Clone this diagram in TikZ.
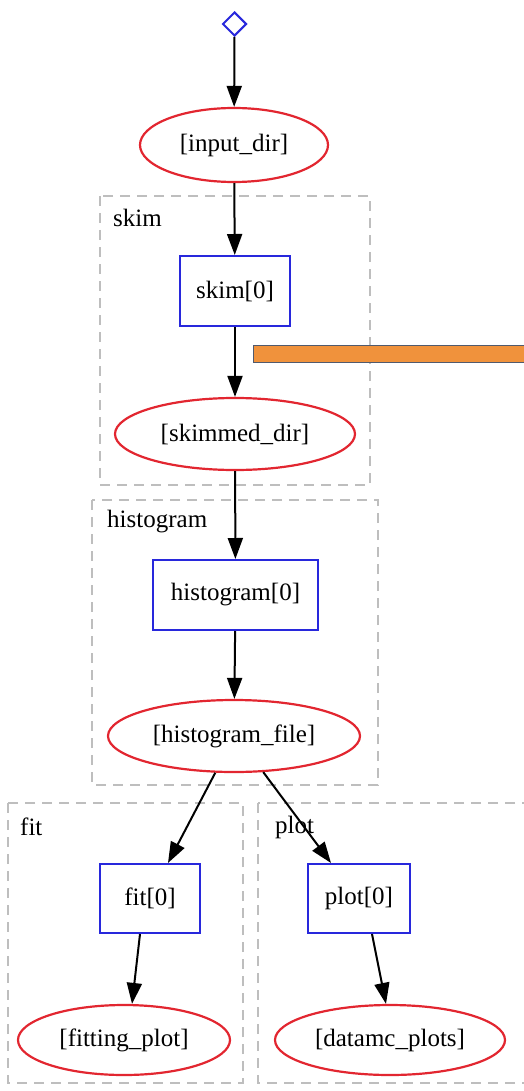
\documentclass[tikz,border=0pt]{standalone}
\usepackage{fontspec}
\setmainfont{Liberation Serif}
\usepackage{xcolor}
\definecolor{ColR}{RGB}{226,38,48}
\definecolor{ColB}{RGB}{40,40,220}
\definecolor{ColG}{RGB}{190,190,190}
\definecolor{ColO}{RGB}{240,146,60}
\definecolor{ColE}{RGB}{80,90,110}
\usetikzlibrary{shapes.geometric}
\usetikzlibrary{arrows.meta}
\tikzstyle{Data}=[ellipse,draw=ColR,line width=2.2pt,inner sep=0pt,
font=\fontsize{25}{28}\selectfont]
\tikzstyle{Task}=[rectangle,draw=ColB,line width=2pt,inner sep=0pt,
font=\fontsize{25}{28}\selectfont]
\tikzstyle{Start}=[diamond,draw=ColB,line width=2pt,inner sep=0pt,
minimum width=24pt,minimum height=24pt]
\tikzstyle{Edge}=[draw=black,line width=2pt,
-{Triangle[length=21pt,width=15pt]}]
\tikzstyle{Cluster}=[draw=ColG,line width=1.5pt,dash pattern=on 10pt off 7pt]
\tikzstyle{ClusterST}=[anchor=west,inner sep=0pt,
font=\fontsize{25}{28}\selectfont]

\begin{document}
\begin{tikzpicture}[x=1pt,y=-1pt]
        \useasboundingbox(0,0)rectangle(524,1091);
        % clusters
        \draw[Cluster](100,196)rectangle(370,485);
        \draw[Cluster](92,500)rectangle(378,785);
        \draw[Cluster](8,803)rectangle(243,1083);
        \draw[Cluster](258,803)rectangle(540,1083);
        \node[ClusterST](skimL)at(113,218){skim};
        \node[ClusterST](histL)at(107,522){histogram};
        \node[ClusterST](fitL)at(20,827){fit};
        \node[ClusterST](plotL)at(275,827){plot};
        % nodes
        \node[Start](s)at(234.5,24){};
        \node[Data,minimum width=188pt,minimum height=74pt](in)
            at(234,145){[input\_dir]};
        \node[Task,minimum width=110pt,minimum height=70pt](sk)
            at(235,291){skim[0]};
        \node[Data,minimum width=240pt,minimum height=72pt](skd)
            at(235,434){[skimmed\_dir]};
        \node[Task,minimum width=165pt,minimum height=70pt](hi)
            at(235.5,595){histogram[0]};
        \node[Data,minimum width=252pt,minimum height=72pt](hif)
            at(234,736){[histogram\_file]};
        \node[Task,minimum width=100pt,minimum height=69pt](fi)
            at(150,898.5){fit[0]};
        \node[Task,minimum width=102pt,minimum height=69pt](pl)
            at(359,898.5){plot[0]};
        \node[Data,minimum width=212pt,minimum height=70pt](fip)
            at(124,1040){[fitting\_plot]};
        \node[Data,minimum width=230pt,minimum height=70pt](dmc)
            at(390,1040){[datamc\_plots]};
        % edges
        \draw[Edge](s)--(in);
        \draw[Edge](in)--(sk);
        \draw[Edge](sk)--(skd);
        \draw[Edge](skd)--(hi);
        \draw[Edge](hi)--(hif);
        \draw[Edge](hif.-117)--(fi.north -| 168,0);
        \draw[Edge](hif.-51)--(pl.north -| 331,0);
        \draw[Edge](fi.south -| 140,0)--(fip.north -| 132,0);
        \draw[Edge](pl.south -| 372,0)--(dmc.north -| 386,0);
        % bar
        \node[draw=ColE,fill=ColO,line width=1.2pt,minimum width=290pt,
            minimum height=17pt,inner sep=0pt,anchor=north west](bar)
            at(253,345){};
    \end{tikzpicture}
\end{document}
